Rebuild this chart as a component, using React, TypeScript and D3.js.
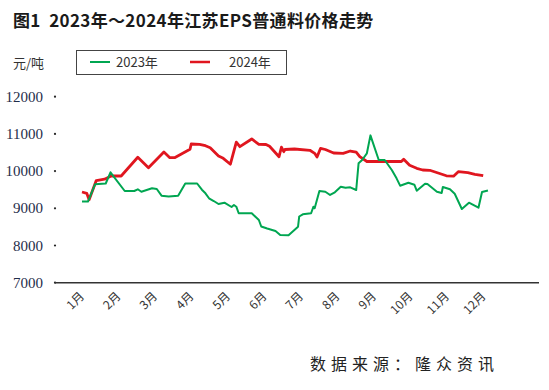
import React from 'react';
import * as d3 from 'd3';

// 2023 price (元/吨), day of year vs value
const days2023 = [0, 5, 11, 20, 24, 36, 44, 47, 50, 59, 63, 67, 73, 81, 87, 97, 101, 104, 107, 111, 115, 120, 126, 128, 130, 132, 143, 149, 151, 156, 163, 167, 174, 182, 183, 186, 193, 195, 196, 200, 205, 209, 213, 218, 222, 226, 231, 233, 236, 240, 243, 250, 255, 261, 265, 268, 275, 280, 282, 289, 291, 299, 303, 304, 310, 314, 320, 326, 334, 337, 342];
const values2023 = [9180, 9180, 9645, 9667, 9968, 9465, 9465, 9511, 9446, 9538, 9519, 9339, 9317, 9339, 9667, 9667, 9500, 9403, 9269, 9196, 9116, 9151, 9035, 9089, 9043, 8866, 8866, 8685, 8511, 8457, 8390, 8282, 8277, 8505, 8780, 8839, 8866, 9043, 9000, 9465, 9446, 9358, 9430, 9581, 9554, 9564, 9492, 10210, 10298, 10478, 10960, 10298, 10298, 10030, 9806, 9608, 9685, 9634, 9473, 9661, 9653, 9446, 9411, 9573, 9511, 9390, 8981, 9151, 9016, 9438, 9478];

// 2024 price
const days2024 = [0, 4, 6, 12, 19, 25, 33, 47, 56, 69, 74, 78, 91, 92, 99, 104, 108, 115, 119, 125, 130, 133, 143, 149, 155, 158, 166, 168, 170, 171, 179, 192, 196, 198, 201, 205, 212, 220, 226, 231, 234, 240, 269, 271, 276, 282, 287, 293, 307, 313, 317, 325, 331, 338];
const values2024 = [9438, 9403, 9231, 9747, 9782, 9874, 9868, 10371, 10091, 10513, 10360, 10360, 10586, 10728, 10720, 10683, 10629, 10406, 10344, 10185, 10777, 10656, 10863, 10720, 10715, 10667, 10387, 10642, 10522, 10581, 10594, 10559, 10478, 10379, 10613, 10581, 10487, 10478, 10540, 10508, 10387, 10258, 10258, 10320, 10156, 10075, 10030, 10022, 9874, 9863, 9984, 9957, 9914, 9876];

const months = ['1月', '2月', '3月', '4月', '5月', '6月', '7月', '8月', '9月', '10月', '11月', '12月'];
const yTicks = [7000, 8000, 9000, 10000, 11000, 12000];

const cjk = '"Noto Sans CJK SC", "Noto Sans", sans-serif';

export default function App() {
  const width = 549;
  const height = 390;

  const x = d3.scaleLinear().domain([0, 365]).range([82, 82 + 365 * 1.187]);
  const y = d3.scaleLinear().domain([7000, 12000]).range([282.7, 96.7]);
  const monthX = d3.scalePoint<string>().domain(months).range([85, 486.5]);

  const line = d3
    .line<[number, number]>()
    .x(d => x(d[0]))
    .y(d => y(d[1]));

  const s2023 = days2023.map((d, i) => [d, values2023[i]] as [number, number]);
  const s2024 = days2024.map((d, i) => [d, values2024[i]] as [number, number]);

  return (
    <svg
      width={width}
      height={height}
      style={{ position: 'absolute', left: 0, top: 0, background: '#fff' }}
    >
      {/* title */}
      <text
        x={13}
        y={27}
        fontFamily={cjk}
        fontWeight="bold"
        fontSize={17}
        letterSpacing={0.35}
        fill="#1a1a1a"
        style={{ whiteSpace: 'pre' }}
      >
        {'图1  2023年～2024年江苏EPS普通料价格走势'}
      </text>

      {/* unit + legend */}
      <text x={13} y={68} fontFamily={cjk} fontSize={13} fill="#333">元/吨</text>
      <rect x={76.5} y={50.5} width={210} height={24} fill="none" stroke="#444" strokeWidth={1} />
      <line x1={90} x2={110} y1={62} y2={62} stroke="#00a651" strokeWidth={2} />
      <text x={116} y={67} fontFamily={cjk} fontSize={13} fill="#333">2023年</text>
      <line x1={190} x2={210} y1={62} y2={62} stroke="#e0161f" strokeWidth={2.5} />
      <text x={229} y={67} fontFamily={cjk} fontSize={13} fill="#333">2024年</text>

      {/* y axis ticks */}
      {yTicks.map(t => (
        <g key={t}>
          <text
            x={43}
            y={y(t) + 5}
            textAnchor="end"
            fontFamily='"Liberation Serif", serif'
            fontSize={15}
            fill="#1f2d4a"
          >
            {t}
          </text>
          <circle cx={55} cy={y(t)} r={1.1} fill="#222" />
        </g>
      ))}

      {/* x axis */}
      <line x1={55} x2={539} y1={y(7000)} y2={y(7000)} stroke="#333" strokeWidth={1.5} />
      {months.map(m => (
        <text
          key={m}
          transform={`translate(${monthX(m)},${297}) rotate(-45)`}
          textAnchor="end"
          fontFamily={cjk}
          fontSize={12}
          fill="#333"
        >
          {m}
        </text>
      ))}

      {/* series */}
      <path d={line(s2024) || ''} fill="none" stroke="#e0161f" strokeWidth={2.8} strokeLinejoin="round" />
      <path d={line(s2023) || ''} fill="none" stroke="#00a651" strokeWidth={2} strokeLinejoin="round" />

      {/* source */}
      <text x={310} y={370} fontFamily={cjk} fontSize={16} letterSpacing={5} fill="#222">
        数据来源：隆众资讯
      </text>
    </svg>
  );
}
